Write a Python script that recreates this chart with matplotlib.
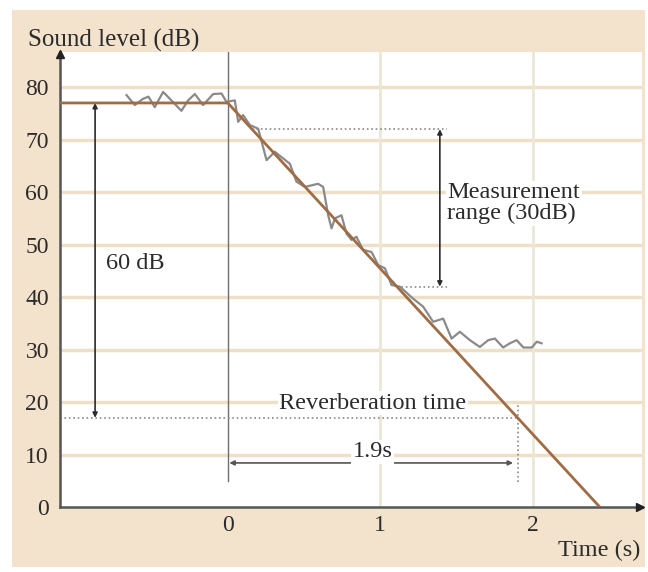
import matplotlib
matplotlib.use("Agg")
import matplotlib.pyplot as plt
from matplotlib.patches import Rectangle

plt.rcParams['font.family'] = ['Liberation Serif', 'DejaVu Serif']

# measured sound level (noisy trace)
noisy_t = [-0.664, -0.61, -0.555, -0.52, -0.479, -0.424, -0.37, -0.304, -0.26, -0.216,
           -0.162, -0.096, -0.041, -0.009, 0.046, 0.068, 0.1, 0.144, 0.199, 0.254,
           0.308, 0.407, 0.45, 0.505, 0.592, 0.625, 0.658, 0.68, 0.702, 0.745,
           0.778, 0.811, 0.843, 0.887, 0.942, 0.986, 1.03, 1.073, 1.128, 1.215,
           1.28, 1.346, 1.412, 1.467, 1.521, 1.587, 1.652, 1.707, 1.751, 1.805,
           1.849, 1.893, 1.938, 1.993, 2.025, 2.057]
noisy_db = [78.5, 76.6, 77.8, 78.2, 76.2, 79.1, 77.5, 75.5, 77.5, 78.7,
            76.6, 78.7, 78.8, 77.2, 77.5, 73.4, 74.7, 72.8, 72.1, 66.1,
            67.7, 65.4, 62.0, 61.0, 61.6, 61.0, 55.6, 53.1, 55.0, 55.6,
            52.1, 50.9, 51.5, 49.0, 48.6, 46.1, 45.5, 42.3, 42.0, 39.7,
            38.2, 35.3, 35.9, 32.1, 33.4, 31.8, 30.5, 31.8, 32.1, 30.4,
            31.2, 31.8, 30.4, 30.4, 31.5, 31.2]

# idealised decay: steady level, then a straight 60 dB fall in 1.9 s
start_level = 77
drop = 60
rt = 1.9
decay_t = [-1.1, 0, start_level * rt / drop]
decay_db = [start_level, start_level, 0]

meas_top, meas_bottom = 72, 42
y_ticks = [0, 10, 20, 30, 40, 50, 60, 70, 80]
x_ticks = [0, 1, 2]

xmin, xmax = -1.1, 2.715
ymin, ymax = 0, 86.7

ink = '#2b2b2b'
brown = '#a06c44'
grey = '#8a8a8a'

fig = plt.figure(figsize=(6.48, 5.72), dpi=100)
fig.patch.set_facecolor('white')
fig.patches.append(Rectangle((0.0185, 0.0087), 0.977, 0.974, transform=fig.transFigure,
                             facecolor='#f3e3cd', edgecolor='none', zorder=-10))

ax = fig.add_axes([0.0926, 0.1136, 0.9907 - 0.0926, 0.909 - 0.1136])
ax.set_facecolor('white')
ax.set_xlim(xmin, xmax)
ax.set_ylim(ymin, ymax)

# grid
for y in y_ticks[1:]:
    ax.axhline(y, color='#efdfc6', lw=2.5, zorder=0)
for x in x_ticks[1:]:
    ax.axvline(x, color='#ebe7d7', lw=2, zorder=0)
ax.plot([0, 0], [5, ymax], color='#6f6f6f', lw=1, zorder=1)

# curves
ax.plot(noisy_t, noisy_db, color=grey, lw=1.6, zorder=3)
ax.plot(decay_t, decay_db, color=brown, lw=2, zorder=4)

# helper lines
dot = dict(color='#8a8a8a', lw=1.2, ls=':', zorder=2)
ax.plot([xmin, rt], [start_level - drop] * 2, **dot)
ax.plot([rt, rt], [4.8, 19.8], **dot)
ax.plot([(start_level - meas_top) * rt / drop, 1.44], [meas_top] * 2, **dot)
ax.plot([(start_level - meas_bottom) * rt / drop, 1.44], [meas_bottom] * 2, **dot)

arrow = dict(arrowstyle='<|-|>', color=ink, lw=1.2, mutation_scale=7, shrinkA=0, shrinkB=0)
ax.annotate('', xy=(-0.87, start_level), xytext=(-0.87, start_level - drop), arrowprops=arrow)
ax.annotate('', xy=(1.39, meas_top), xytext=(1.39, meas_bottom), arrowprops=arrow)
ax.annotate('', xy=(0.01, 8.4), xytext=(rt - 0.03, 8.4),
            arrowprops=dict(arrow, color='#555555'))

txt = dict(color=ink, fontsize=17.5)
ax.text(-0.8, 46.5, '60 dB', ha='left', va='center', **txt)
ax.text(1.44, 57.9, 'Measurement\nrange (30dB)', ha='left', va='center', linespacing=1.0,
        bbox=dict(facecolor='white', edgecolor='none', pad=1), **txt)
ax.text(0.95, 19.8, 'Reverberation time', ha='center', va='center',
        bbox=dict(facecolor='white', edgecolor='none', pad=1), **txt)
ax.text(0.95, 10.5, '1.9s', ha='center', va='center',
        bbox=dict(facecolor='white', edgecolor='none', pad=1), **txt)

# axes with arrow heads
for s in ['top', 'right']:
    ax.spines[s].set_visible(False)
for s in ['left', 'bottom']:
    ax.spines[s].set_color('#555555')
    ax.spines[s].set_linewidth(1.8)
ax.plot([xmin], [86.3], marker='^', color='#222222', ms=6, clip_on=False, zorder=6)
ax.plot([2.7], [0], marker='>', color='#222222', ms=6, clip_on=False, zorder=6)

ax.set_yticks(y_ticks)
ax.set_xticks(x_ticks)
ax.tick_params(length=0, labelsize=17, labelcolor=ink)
ax.tick_params(axis='y', pad=8)
ax.tick_params(axis='x', pad=6)

fig.text(0.043, 0.93, 'Sound level (dB)', ha='left', va='center', color=ink, fontsize=18)
fig.text(0.988, 0.037, 'Time (s)', ha='right', va='center', color=ink, fontsize=17.5)

fig.savefig('out.png', dpi=100, facecolor=fig.get_facecolor())
